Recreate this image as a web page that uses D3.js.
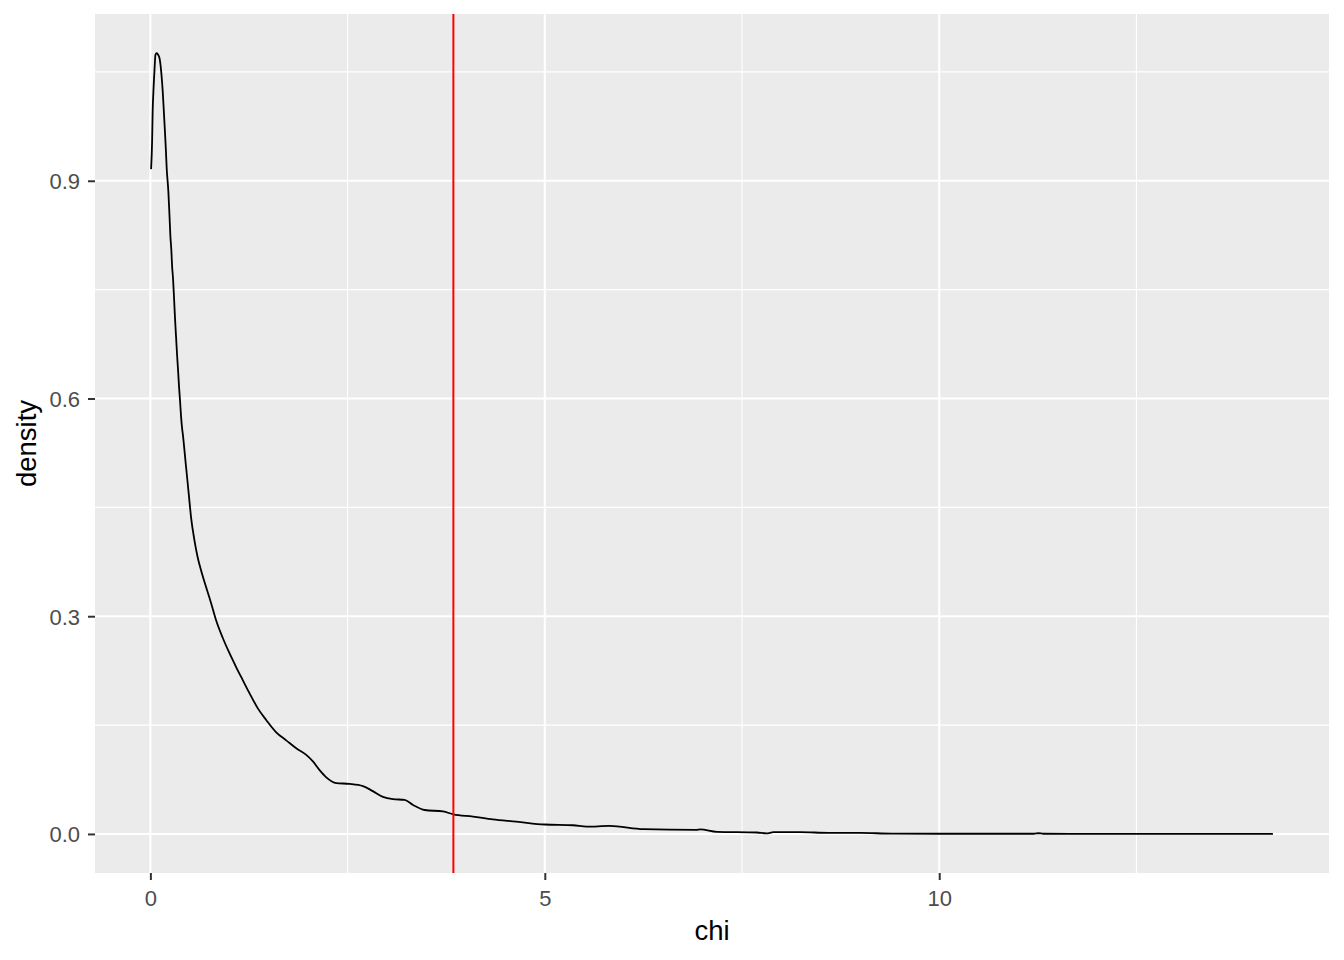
<!DOCTYPE html>
<html>
<head>
<meta charset="utf-8">
<script src="https://cdn.jsdelivr.net/npm/d3@7"></script>
<style>
  html, body { margin: 0; padding: 0; background: #ffffff; }
  svg { display: block; font-family: "Liberation Sans", Arial, sans-serif; }
</style>
</head>
<body>
<svg id="chart" width="1344" height="960"></svg>
<script>
// ---- data ----
const chiValues = [0.009, 0.022, 0.029, 0.038, 0.051, 0.065, 0.08, 0.095, 0.114, 0.127, 0.14, 0.156, 0.169, 0.182, 0.195, 0.207,
  0.228, 0.241, 0.254, 0.266, 0.275, 0.288, 0.301, 0.313, 0.326, 0.339, 0.352, 0.364, 0.376, 0.389, 0.402, 0.41,
  0.453, 0.486, 0.516, 0.558, 0.6, 0.643, 0.707, 0.77, 0.834, 0.918, 1.003, 1.087, 1.171, 1.256, 1.362, 1.468,
  1.595, 1.722, 1.849, 1.976, 2.06, 2.145, 2.23, 2.356, 2.525, 2.695, 2.82, 2.948, 3.075, 3.223, 3.33, 3.477,
  3.71, 3.84, 4.09, 4.34, 4.64, 5.0, 5.36, 5.53, 5.82, 6.25, 6.92, 6.97, 7.18, 7.69, 7.81, 7.9, 8.24, 8.6,
  9.0, 9.4, 10.0, 10.8, 11.2, 11.26, 11.32, 12.0, 13.0, 14.23];
const densityValues = [0.916, 0.955, 0.996, 1.022, 1.05, 1.074, 1.076, 1.074, 1.07, 1.061, 1.047, 1.024, 0.999, 0.973, 0.946, 0.917,
  0.885, 0.855, 0.823, 0.804, 0.783, 0.764, 0.736, 0.709, 0.684, 0.659, 0.637, 0.615, 0.597, 0.575, 0.559, 0.552,
  0.505, 0.469, 0.436, 0.405, 0.381, 0.363, 0.34, 0.318, 0.294, 0.27, 0.249, 0.23, 0.212, 0.194, 0.173, 0.157,
  0.14, 0.129, 0.118, 0.109, 0.1, 0.088, 0.078, 0.07, 0.069, 0.066, 0.059, 0.051, 0.048, 0.047, 0.04, 0.033,
  0.031, 0.027, 0.024, 0.02, 0.017, 0.013, 0.012, 0.010, 0.011, 0.0066, 0.0055, 0.0064, 0.003, 0.002, 0.0008, 0.0025, 0.0025, 0.0015,
  0.0015, 0.0004, 0.0003, 0.0003, 0.0003, 0.001, 0.0003, 0.0002, 0.0001, 0.0001];
const criticalValue = [3.841];
const xMajorTicks = [0, 5, 10];
const xMinorTicks = [2.5, 7.5, 12.5];
const yMajorTicks = [0.0, 0.3, 0.6, 0.9];
const yMinorTicks = [0.15, 0.45, 0.75, 1.05];
const xTitle = "chi";
const yTitle = "density";

// ---- layout ----
const svg = d3.select("#chart");
const panel = { left: 95, right: 1329, top: 14, bottom: 873 };

const xMin = d3.min(chiValues), xMax = d3.max(chiValues);
const xPad = (xMax - xMin) * 0.05;
const yMax = d3.max(densityValues);
const yPad = yMax * 0.05;

const x = d3.scaleLinear().domain([xMin - xPad, xMax + xPad]).range([panel.left, panel.right]);
const y = d3.scaleLinear().domain([-yPad, yMax + yPad]).range([panel.bottom, panel.top]);

// panel background
svg.append("rect")
  .attr("x", panel.left).attr("y", panel.top)
  .attr("width", panel.right - panel.left).attr("height", panel.bottom - panel.top)
  .attr("fill", "#EBEBEB");

const grid = svg.append("g");
// minor grid
grid.selectAll(".xminor").data(xMinorTicks).enter().append("line")
  .attr("x1", d => x(d)).attr("x2", d => x(d))
  .attr("y1", panel.top).attr("y2", panel.bottom)
  .attr("stroke", "#ffffff").attr("stroke-width", 1.1);
grid.selectAll(".yminor").data(yMinorTicks).enter().append("line")
  .attr("y1", d => y(d)).attr("y2", d => y(d))
  .attr("x1", panel.left).attr("x2", panel.right)
  .attr("stroke", "#ffffff").attr("stroke-width", 1.1);
// major grid
grid.selectAll(".xmajor").data(xMajorTicks).enter().append("line")
  .attr("x1", d => x(d)).attr("x2", d => x(d))
  .attr("y1", panel.top).attr("y2", panel.bottom)
  .attr("stroke", "#ffffff").attr("stroke-width", 2.1);
grid.selectAll(".ymajor").data(yMajorTicks).enter().append("line")
  .attr("y1", d => y(d)).attr("y2", d => y(d))
  .attr("x1", panel.left).attr("x2", panel.right)
  .attr("stroke", "#ffffff").attr("stroke-width", 2.1);

// density line
const points = chiValues.map((c, i) => [c, densityValues[i]]);
const line = d3.line().x(d => x(d[0])).y(d => y(d[1])).curve(d3.curveMonotoneX);
svg.append("path")
  .datum(points)
  .attr("d", line)
  .attr("fill", "none")
  .attr("stroke", "#000000")
  .attr("stroke-width", 1.8)
  .attr("stroke-linejoin", "round");

// critical value line
svg.selectAll(".vline").data(criticalValue).enter().append("line")
  .attr("x1", d => x(d)).attr("x2", d => x(d))
  .attr("y1", panel.top).attr("y2", panel.bottom)
  .attr("stroke", "#FF0000").attr("stroke-width", 2);

// axes
const xAxis = d3.axisBottom(x).tickValues(xMajorTicks).tickSize(7).tickPadding(10).tickFormat(d3.format("d"));
const yAxis = d3.axisLeft(y).tickValues(yMajorTicks).tickSize(7).tickPadding(8).tickFormat(d3.format(".1f"));

const gx = svg.append("g").attr("transform", `translate(0,${panel.bottom})`).call(xAxis);
const gy = svg.append("g").attr("transform", `translate(${panel.left},0)`).call(yAxis);

[gx, gy].forEach(g => {
  g.select(".domain").remove();
  g.selectAll(".tick line").attr("stroke", "#333333").attr("stroke-width", 2);
  g.selectAll(".tick text")
    .attr("fill", "#4D4D4D")
    .style("font-size", "22px")
    .style("font-family", "'Liberation Sans', Arial, sans-serif");
});
gx.selectAll(".tick text").attr("dy", "0.72em");
gy.selectAll(".tick text").attr("dy", "0.36em");

// axis titles
svg.append("text")
  .attr("x", (panel.left + panel.right) / 2)
  .attr("y", 940)
  .attr("text-anchor", "middle")
  .attr("fill", "#000000")
  .style("font-size", "27.5px")
  .text(xTitle);

svg.append("text")
  .attr("transform", `translate(36,${(panel.top + panel.bottom) / 2}) rotate(-90)`)
  .attr("text-anchor", "middle")
  .attr("fill", "#000000")
  .style("font-size", "27.5px")
  .text(yTitle);
</script>
</body>
</html>
